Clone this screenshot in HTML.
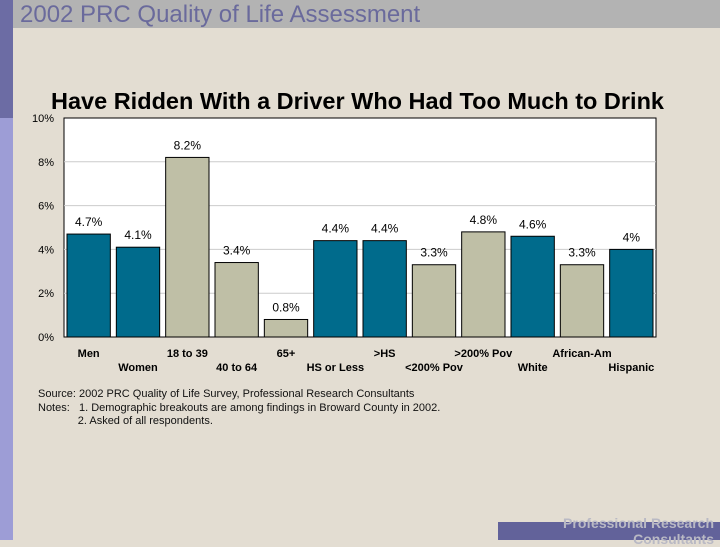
<!DOCTYPE html>
<html><head><meta charset="utf-8"><style>
body{margin:0;width:720px;height:540px;overflow:hidden;background:#e3ddd2;font-family:"Liberation Sans",sans-serif;position:relative}
.abs{position:absolute}
</style></head><body>
<div class="abs" style="left:0;top:0;width:13px;height:118px;background:#6c6ca4"></div>
<div class="abs" style="left:0;top:118px;width:13px;height:422px;background:#9d9dd6"></div>
<div class="abs" style="left:13px;top:0;width:707px;height:28px;background:#b3b3b3"></div>
<div class="abs" style="left:20px;top:1px;font-size:24px;color:#6a6a9c;white-space:nowrap">2002 PRC Quality of Life Assessment</div>
<div class="abs" style="left:51px;top:88px;font-size:23.5px;font-weight:bold;color:#000;white-space:nowrap">Have Ridden With a Driver Who Had Too Much to Drink</div>
<svg class="abs" style="left:0;top:0" width="720" height="540">
<g id="g"></g></svg>
<div class="abs" style="left:38px;top:388px;font-size:11px;line-height:13.5px;color:#111;white-space:pre">Source: 2002 PRC Quality of Life Survey, Professional Research Consultants
Notes:   1. Demographic breakouts are among findings in Broward County in 2002.
             2. Asked of all respondents.</div>
<div class="abs" style="left:498px;top:522px;width:222px;height:18px;background:#62629a"></div>
<div class="abs" style="right:6px;top:515px;font-size:14px;font-weight:bold;color:#b9b9c4;text-align:right;line-height:16px">Professional Research<br>Consultants</div>
<script>
const categories=["Men","Women","18 to 39","40 to 64","65+","HS or Less",">HS","<200% Pov",">200% Pov","White","African-Am","Hispanic"];
const values=[4.7,4.1,8.2,3.4,0.8,4.4,4.4,3.3,4.8,4.6,3.3,4.0];
const valueLabels=["4.7%","4.1%","8.2%","3.4%","0.8%","4.4%","4.4%","3.3%","4.8%","4.6%","3.3%","4%"];
const groupColor=[0,0,1,1,1,0,0,1,1,0,1,0];
const yTicks=[0,2,4,6,8,10];
const NS="http://www.w3.org/2000/svg";
const g=document.getElementById('g');
const X0=64,X1=656,Y0=337,Y1=118,yMax=10;
const y=v=>Y0-(Y0-Y1)*v/yMax;
const slot=(X1-X0)/categories.length;
const x=i=>X0+slot*i;
function mk(t,a){const e=document.createElementNS(NS,t);for(const k in a)e.setAttribute(k,a[k]);g.appendChild(e);return e;}
let r=mk('rect',{x:X0,y:Y1,width:X1-X0,height:Y0-Y1,fill:'#fff',stroke:'#000','stroke-width':1});

yTicks.forEach(t=>{
 if(t>0&&t<10){let l=mk('line',{x1:X0,x2:X1,y1:y(t),y2:y(t),stroke:'#ccc','stroke-width':1});
 }
 let tx=mk('text',{x:X0-10,y:y(t)+4,'text-anchor':'end','font-size':11,fill:'#000'});tx.textContent=t+'%';
 
});
values.forEach((v,i)=>{
 const bx=x(i)+3,bw=slot-6;
 let b=mk('rect',{x:bx,y:y(v),width:bw,height:Y0-y(v),fill:groupColor[i]?'#bfbfa6':'#006b8c',stroke:'#000','stroke-width':1});
 
 let vl=mk('text',{x:bx+bw/2,y:y(v)-8,'text-anchor':'middle','font-size':12,fill:'#000'});vl.textContent=valueLabels[i];
 
 let cl=mk('text',{x:bx+bw/2,y:i%2?371:357,'text-anchor':'middle','font-size':11,'font-weight':'bold',fill:'#000'});cl.textContent=categories[i];
 
});
</script>
</body></html>
